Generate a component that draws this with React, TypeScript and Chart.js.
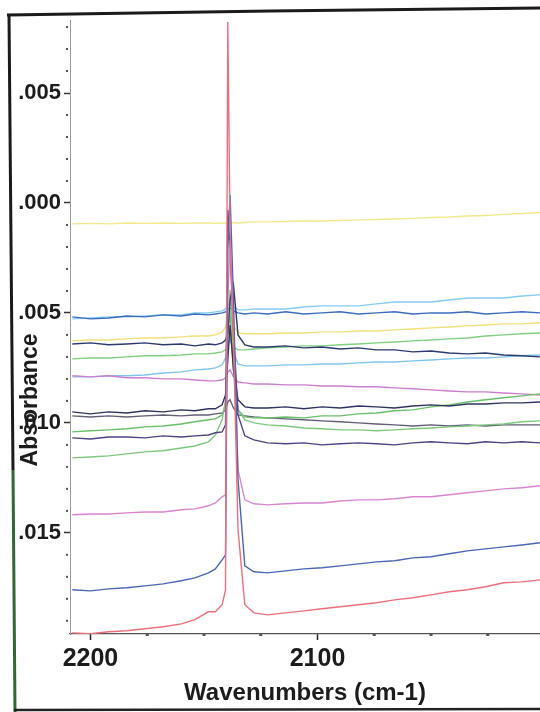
import { useEffect, useRef } from 'react';
import { Chart, registerables } from 'chart.js';

Chart.register(...registerables);

// Wavenumber grid (cm-1), shared by all spectra
const wavenumbers = [
  2208, 2200, 2192, 2184, 2176, 2168, 2160, 2154, 2148, 2145, 2142, 2140.5, 2139.5, 2138.5,
  2137, 2135, 2132, 2128, 2122, 2114, 2106, 2098, 2090, 2082, 2074, 2066, 2058, 2050, 2042,
  2034, 2026, 2018, 2010, 2002,
];

// Absorbance values in units of 0.001
const absRed = [-19.55, -19.59, -19.5, -19.45, -19.36, -19.27, -19.14, -18.95, -18.59, -18.59, -18.27, -17.59, 8.23, -1.23, -6.23, -14.86, -18.27, -18.64, -18.73, -18.64, -18.55, -18.45, -18.36, -18.27, -18.18, -18.05, -17.95, -17.82, -17.68, -17.59, -17.45, -17.27, -17.23, -17.14];
const absBlue = [-17.59, -17.64, -17.55, -17.5, -17.41, -17.32, -17.18, -17.05, -16.82, -16.64, -16.23, -16.0, -2.14, 0.36, -4.41, -12.59, -16.5, -16.77, -16.82, -16.73, -16.64, -16.59, -16.5, -16.41, -16.32, -16.27, -16.14, -16.09, -15.95, -15.82, -15.73, -15.64, -15.55, -15.45];
const absPink = [-14.18, -14.14, -14.14, -14.09, -14.05, -14.05, -13.95, -13.91, -13.77, -13.64, -13.36, -13.27, -4.41, -1.68, -5.77, -12.14, -13.5, -13.68, -13.73, -13.68, -13.64, -13.64, -13.55, -13.5, -13.5, -13.45, -13.36, -13.36, -13.27, -13.18, -13.09, -13.0, -12.95, -12.86];
const absPurple = [-10.68, -10.73, -10.64, -10.64, -10.68, -10.59, -10.64, -10.59, -10.55, -10.45, -10.41, -10.09, -0.32, -2.14, -5.77, -9.64, -10.59, -10.77, -10.91, -10.95, -10.91, -11.0, -10.95, -10.91, -10.95, -11.0, -10.91, -10.86, -10.91, -10.95, -10.86, -10.91, -10.86, -10.91];
const absGreenLow = [-11.59, -11.55, -11.5, -11.41, -11.32, -11.27, -11.14, -11.05, -10.86, -10.55, -9.86, -8.95, -6.23, -3.95, -6.68, -9.41, -9.86, -10.0, -10.09, -10.14, -10.23, -10.27, -10.32, -10.32, -10.36, -10.32, -10.27, -10.23, -10.18, -10.14, -10.09, -10.05, -9.95, -9.91];
const absGreenMid = [-10.41, -10.36, -10.32, -10.27, -10.18, -10.14, -10.05, -9.95, -9.86, -9.82, -9.64, -9.18, -5.77, -5.09, -7.59, -9.41, -9.73, -9.77, -9.77, -9.73, -9.77, -9.68, -9.68, -9.59, -9.55, -9.45, -9.41, -9.27, -9.18, -9.05, -8.95, -8.86, -8.77, -8.68];
const absGray = [-9.68, -9.73, -9.68, -9.73, -9.68, -9.64, -9.68, -9.64, -9.64, -9.59, -9.55, -9.41, -9.05, -8.95, -9.32, -9.64, -9.68, -9.73, -9.77, -9.82, -9.86, -9.91, -9.95, -10.0, -10.05, -10.09, -10.14, -10.09, -10.14, -10.09, -10.14, -10.09, -10.09, -10.09];
const absNavyMid = [-9.5, -9.59, -9.5, -9.55, -9.45, -9.5, -9.41, -9.45, -9.36, -9.36, -9.18, -8.73, -7.14, -5.55, -7.59, -8.95, -9.27, -9.32, -9.32, -9.27, -9.36, -9.27, -9.32, -9.23, -9.27, -9.32, -9.23, -9.18, -9.23, -9.14, -9.14, -9.09, -9.09, -9.05];
const absLilac = [-7.86, -7.91, -7.86, -7.95, -7.95, -8.0, -8.0, -8.05, -8.09, -8.09, -8.05, -7.95, -7.68, -7.59, -7.91, -8.14, -8.18, -8.23, -8.23, -8.27, -8.27, -8.32, -8.32, -8.36, -8.36, -8.41, -8.45, -8.5, -8.55, -8.59, -8.59, -8.64, -8.68, -8.73];
const absLightBlueLow = [-7.91, -7.91, -7.86, -7.86, -7.82, -7.73, -7.68, -7.59, -7.55, -7.5, -7.36, -7.05, -6.45, -6.14, -6.77, -7.32, -7.41, -7.41, -7.41, -7.36, -7.36, -7.32, -7.32, -7.27, -7.23, -7.23, -7.18, -7.14, -7.09, -7.05, -7.05, -7.0, -6.95, -6.91];
const absGreenUp = [-7.09, -7.05, -7.05, -7.0, -6.95, -6.95, -6.91, -6.86, -6.86, -6.82, -6.77, -6.68, -6.36, -6.23, -6.55, -6.68, -6.68, -6.64, -6.59, -6.55, -6.5, -6.5, -6.45, -6.41, -6.36, -6.32, -6.27, -6.23, -6.18, -6.14, -6.05, -6.0, -5.95, -5.91];
const absNavyUp = [-6.41, -6.36, -6.45, -6.41, -6.36, -6.45, -6.41, -6.5, -6.41, -6.45, -6.36, -6.23, -5.95, -4.41, -3.73, -6.0, -6.45, -6.55, -6.55, -6.5, -6.59, -6.55, -6.64, -6.59, -6.68, -6.68, -6.77, -6.73, -6.82, -6.86, -6.82, -6.91, -6.95, -7.0];
const absYellowUp = [-6.27, -6.23, -6.23, -6.18, -6.14, -6.14, -6.09, -6.05, -6.05, -6.0, -5.86, -5.64, -5.23, -5.14, -5.59, -5.91, -5.95, -5.95, -5.95, -5.91, -5.91, -5.86, -5.86, -5.82, -5.82, -5.77, -5.73, -5.68, -5.64, -5.59, -5.55, -5.5, -5.5, -5.45];
const absLightBlueUp = [-5.27, -5.23, -5.18, -5.18, -5.14, -5.09, -5.09, -5.0, -5.0, -4.95, -4.91, -4.82, -4.64, -4.59, -4.73, -4.86, -4.86, -4.82, -4.82, -4.82, -4.73, -4.68, -4.68, -4.68, -4.59, -4.5, -4.5, -4.5, -4.41, -4.32, -4.32, -4.32, -4.23, -4.18];
const absBlueUp = [-5.18, -5.27, -5.23, -5.14, -5.18, -5.09, -5.14, -5.05, -5.09, -5.05, -5.0, -4.95, -4.82, -4.77, -4.91, -5.0, -5.05, -5.0, -5.05, -4.95, -5.05, -5.0, -4.95, -5.05, -5.0, -4.95, -5.05, -5.0, -5.0, -4.95, -5.05, -5.0, -4.95, -5.0];
const absYellowTop = [-0.95, -0.93, -0.95, -0.91, -0.93, -0.91, -0.93, -0.91, -0.91, -0.93, -0.91, -0.91, -0.91, -0.91, -0.89, -0.91, -0.89, -0.86, -0.86, -0.84, -0.82, -0.82, -0.8, -0.77, -0.75, -0.73, -0.7, -0.66, -0.64, -0.59, -0.57, -0.52, -0.48, -0.43];

const series = [
  { name: 'red', color: '#ec6f7b', values: absRed },
  { name: 'blue', color: '#4a67b5', values: absBlue },
  { name: 'pink', color: '#d985cf', values: absPink },
  { name: 'purple', color: '#4e4383', values: absPurple },
  { name: 'navyUp', color: '#2d3a6e', values: absNavyUp },
  { name: 'navyMid', color: '#2f3560', values: absNavyMid },
  { name: 'greenLow', color: '#7ec87e', values: absGreenLow },
  { name: 'greenMid', color: '#6abf6a', values: absGreenMid },
  { name: 'gray', color: '#606078', values: absGray },
  { name: 'lilac', color: '#cc7fcf', values: absLilac },
  { name: 'lightBlueLow', color: '#80c6ec', values: absLightBlueLow },
  { name: 'greenUp', color: '#82cf82', values: absGreenUp },
  { name: 'yellowUp', color: '#f3e07a', values: absYellowUp },
  { name: 'blueUp', color: '#3e6cc0', values: absBlueUp },
  { name: 'lightBlueUp', color: '#86cdf2', values: absLightBlueUp },
  { name: 'yellowTop', color: '#f2e98c', values: absYellowTop },
];

// Axis ranges and ticks
const xMin = 2002;
const xMax = 2209;
const yMin = -19.6;
const yMax = 8.32;
const xTickValues = [2200, 2100];
const yTickValues = [5, 0, -5, -10, -15];
const xMinorStep = 25;
const yMinorStep = 1;

const FONT = '"Liberation Sans", Arial, sans-serif';
const TEXT = '#1c1c1c';

const fmtY = (v: number) => '.' + String(Math.abs(Math.round(v))).padStart(3, '0');

const decorPlugin = {
  id: 'decor',
  beforeDraw(chart: any) {
    const ctx = chart.ctx;
    ctx.save();
    ctx.fillStyle = '#ffffff';
    ctx.fillRect(0, 0, chart.width, chart.height);
    ctx.lineCap = 'butt';
    ctx.strokeStyle = '#1b1b1b';
    ctx.lineWidth = 3;
    ctx.beginPath();
    ctx.moveTo(7, 15);
    ctx.lineTo(270, 11);
    ctx.lineTo(540, 8);
    ctx.stroke();
    ctx.beginPath();
    ctx.moveTo(9, 14);
    ctx.lineTo(13, 470);
    ctx.stroke();
    ctx.strokeStyle = '#2f6b2f';
    ctx.beginPath();
    ctx.moveTo(13, 470);
    ctx.lineTo(15, 712);
    ctx.stroke();
    ctx.strokeStyle = '#222';
    ctx.lineWidth = 2.5;
    ctx.beginPath();
    ctx.moveTo(14, 710);
    ctx.lineTo(540, 709);
    ctx.stroke();
    ctx.restore();
  },
  afterDraw(chart: any) {
    const ctx = chart.ctx;
    const xs = chart.scales.x;
    const ys = chart.scales.y;
    const area = chart.chartArea;
    ctx.save();
    ctx.fillStyle = '#555';
    for (let v = Math.ceil(ys.min); v <= ys.max; v += yMinorStep) {
      if (yTickValues.includes(v)) continue;
      const py = ys.getPixelForValue(v);
      ctx.fillRect(area.left - 4, py - 1, 2, 2);
    }
    for (let v = Math.ceil(xs.min / xMinorStep) * xMinorStep; v <= xs.max; v += xMinorStep) {
      if (xTickValues.includes(v)) continue;
      const px = xs.getPixelForValue(v);
      ctx.fillRect(px - 1.5, area.bottom - 1, 3, 3);
    }
    ctx.translate(31, 400);
    ctx.rotate(-Math.PI / 2);
    ctx.font = `bold 23px ${FONT}`;
    ctx.fillStyle = TEXT;
    ctx.textAlign = 'center';
    ctx.textBaseline = 'middle';
    ctx.fillText('Absorbance', 0, 0);
    ctx.restore();
  },
};

export default function App() {
  const ref = useRef<HTMLCanvasElement>(null);
  useEffect(() => {
    if (!ref.current) return;
    const chart = new Chart(ref.current, {
      type: 'line',
      data: {
        datasets: series.map((s) => ({
          label: s.name,
          data: wavenumbers.map((w, i) => ({ x: w, y: s.values[i] })),
          borderColor: s.color,
          backgroundColor: s.color,
          borderWidth: 1.4,
          pointRadius: 0,
          tension: 0,
          fill: false,
        })),
      },
      options: {
        responsive: false,
        animation: false,
        layout: { padding: { top: 20, left: 0, right: 0, bottom: 0 } },
        plugins: { legend: { display: false }, tooltip: { enabled: false } },
        scales: {
          x: {
            type: 'linear',
            reverse: true,
            min: xMin,
            max: xMax,
            afterBuildTicks: (s: any) => {
              s.ticks = xTickValues.map((v) => ({ value: v }));
            },
            afterFit: (s: any) => {
              s.height = 78;
              s.paddingLeft = 0;
              s.paddingRight = 0;
            },
            border: { display: true, color: '#555', dash: [3, 2], width: 1.2 },
            grid: { drawOnChartArea: false, drawTicks: true, tickLength: 6, tickColor: '#222', tickWidth: 1.5 },
            ticks: {
              autoSkip: false,
              maxRotation: 0,
              padding: 4,
              color: TEXT,
              font: { family: FONT, size: 25, weight: 'bold' },
              callback: (v: any) => String(v),
            },
            title: {
              display: true,
              text: 'Wavenumbers (cm-1)',
              color: TEXT,
              font: { family: FONT, size: 24, weight: 'bold' },
              padding: { top: 0, bottom: 4 },
            },
          },
          y: {
            type: 'linear',
            min: yMin,
            max: yMax,
            afterBuildTicks: (s: any) => {
              s.ticks = yTickValues.map((v) => ({ value: v }));
            },
            afterFit: (s: any) => {
              s.width = 70;
            },
            border: { display: true, color: '#9a9a9a', dash: [2, 2], width: 1 },
            grid: { drawOnChartArea: false, drawTicks: true, tickLength: 6, tickColor: '#333', tickWidth: 1.5 },
            ticks: {
              autoSkip: false,
              padding: 3,
              color: TEXT,
              font: { family: FONT, size: 22, weight: 'bold' },
              callback: (v: any) => fmtY(Number(v)),
            },
          },
        },
      },
      plugins: [decorPlugin],
    } as any);
    return () => chart.destroy();
  }, []);
  return (
    <div style={{ position: 'absolute', left: 0, top: 0, width: 540, height: 712 }}>
      <canvas ref={ref} width={540} height={712} style={{ display: 'block' }} />
    </div>
  );
}
